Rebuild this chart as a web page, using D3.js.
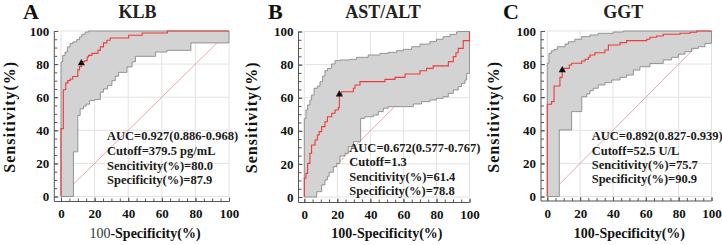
<!DOCTYPE html>
<html><head><meta charset="utf-8">
<script src="https://cdn.jsdelivr.net/npm/d3@7"></script>
<style>
body{margin:0;background:#fff}
svg{display:block}
text{font-family:"Liberation Serif","Times New Roman",serif;}
</style>
</head><body>
<svg id="chart" width="722" height="245"></svg>
<script>
// ---------------- data ----------------
const panelLetters = ["A", "B", "C"];
const panelTitles = ["KLB", "AST/ALT", "GGT"];
const majorTicks = [0, 20, 40, 60, 80, 100];
const minorTicks = d3.range(0, 101, 5);
const xTitle = "100-Specificity(%)";
const yTitle = "Sensitivity(%)";

// ROC curves: [100-specificity, sensitivity] corners (step: across, then up)
const rocA = [[0,0],[0,41],[1.4,64.5],[2.8,68.5],[4,70],[5.4,71],[7,72.5],[10,76.5],[11,78.5],[12.1,80],[13,81.5],[14,82],[15.6,84.3],[16.4,85.3],[18.4,86.5],[22,88.3],[23.4,90.4],[25.3,92.8],[27.3,94.4],[29.3,95.8],[40.3,97.4],[48.3,98.8],[63.3,100],[100,100]];
const upperA = [[0,0],[0,81.3],[1,85.3],[2.4,87.3],[3.8,90.4],[5.4,92.4],[7,93.4],[9.4,94.8],[11,96.4],[12.4,98],[14.4,99.4],[16.4,100],[100,100]];
const lowerA = [[0,0],[7.4,27],[10,49],[11.4,53],[13.4,54.6],[15,55.8],[17,58],[20,58.6],[23.4,63],[25.3,65],[27.7,67],[30.3,70],[32.3,72.7],[34.3,75],[39.3,78.3],[42.3,81.3],[44.3,84.7],[56.3,87.3],[63,88.3],[77.3,92.8],[100,92.8],[100,100]];

const rocB = [[0,0],[0,11.3],[1,14.3],[2,20.3],[3.4,26.4],[4.4,31.4],[6.5,34.4],[7.9,37.5],[9,39.5],[10.5,42.5],[12.5,45.5],[14,48.5],[16.6,50.6],[18.6,52.6],[20.6,54],[21.2,61.4],[22.6,63.6],[29.7,65.7],[30.7,67.7],[33.7,69.7],[48.8,71.1],[54.9,72.3],[61,74.3],[70,76.3],[74,77.7],[78,79.2],[87.2,81.8],[90.2,84.8],[91.8,87.2],[93.2,89.8],[96.2,94.5],[100,100]];
const upperB = [[0,0],[0,47.5],[1,52.6],[2,55.6],[3.4,58.6],[4.4,61.6],[5.9,65.7],[7.9,67],[9.5,69.7],[11.1,73.1],[12.5,76.3],[14,77.7],[16.5,80.4],[18.6,82.4],[21.6,82.8],[27.6,83.2],[31.7,84.4],[38.7,85.8],[45.8,86.8],[50.8,87.4],[55.9,88.4],[60,89.2],[65,90.8],[70,92.4],[76,93.9],[80,95.3],[84,96.9],[88.2,98.3],[92.2,99.7],[93,100],[100,100]];
const lowerB = [[0,0],[7.5,3.2],[10.5,7.3],[12.5,10.3],[14,12.5],[15.1,15],[17.6,18.3],[19.6,20.3],[21.6,24.8],[24.6,26.4],[26.6,30.4],[29.7,33.4],[34.1,47.5],[36.7,48.5],[41.8,49.5],[44.8,51.6],[47.8,53.6],[50.8,54.6],[66,56.2],[71,57.6],[76,58.6],[80,59.6],[84,60.6],[87.2,62.6],[90.2,64.7],[93.2,66.7],[95.2,68.7],[97.3,70.7],[98.3,74.7],[100,78.8],[100,100]];

const rocC = [[0,0],[0,55.7],[2.6,57.3],[4.1,66.8],[7.7,72],[9.1,75.7],[10.1,77.4],[13.4,79.5],[14.8,80.5],[21,81.9],[23,82.9],[25,84.1],[26,85.5],[29,86.9],[35.1,88.5],[37.2,91.5],[44.3,93],[48.3,94.2],[60.5,95],[62.5,96.2],[66.6,97],[70.6,98],[80.8,98.6],[86.9,99.2],[91,100],[100,100]];
const upperC = [[0,0],[0,80.5],[1,86.5],[2.5,88],[4.1,88.8],[6.1,90.5],[10.8,92.1],[12.8,93.5],[16.8,95],[20.9,96.6],[26,97.6],[31,98.6],[40.2,99.4],[46.3,100],[100,100]];
const lowerC = [[0,0],[7.3,40.2],[14.8,51.3],[21,60.3],[24,62],[26,64],[28,65.4],[31,67.4],[35.1,68.8],[39.2,70.4],[44.3,72],[48.3,73.4],[52.4,76.4],[56.4,78.4],[62.5,80.4],[70.6,82.5],[75.7,84.1],[79.8,86],[83.8,87.5],[87.9,89.5],[92,90.5],[96,92.5],[100,93.5],[100,100]];

const cutoffA = [12.1, 80.0];
const cutoffB = [21.2, 61.4];
const cutoffC = [9.1, 75.7];

const statsA = ["AUC=0.927(0.886-0.968)", "Cutoff=379.5 pg/mL", "Sencitivity(%)=80.0", "Specificity(%)=87.9"];
const statsB = ["AUC=0.672(0.577-0.767)", "Cutoff=1.3", "Sencitivity(%)=61.4", "Specificity(%)=78.8"];
const statsC = ["AUC=0.892(0.827-0.939)", "Cutoff=52.5 U/L", "Sencitivity(%)=75.7", "Specificity(%)=90.9"];

// ---------------- layout ----------------
const layouts = [
  {x0:61,    x1:229,   yb:196.5, yt:31,   axL:54.3,  axB:201.5, letterX:23,  titleX:137.5, statX:107,   statY:[140.2,154.9,169.6,184.2]},
  {x0:304.3, x1:469.5, yb:197,   yt:31.5, axL:298.5, axB:202.5, letterX:268, titleX:383,   statX:349.3, statY:[151.5,166.2,180.5,194.9]},
  {x0:547.3, x1:711.5, yb:196.5, yt:31,   axL:541,   axB:201,   letterX:503, titleX:623.3, statX:591.7, statY:[140.2,154.9,168.8,183.2]}
];
const rocs = [rocA, rocB, rocC];
const uppers = [upperA, upperB, upperC];
const lowers = [lowerA, lowerB, lowerC];
const cutoffs = [cutoffA, cutoffB, cutoffC];
const stats = [statsA, statsB, statsC];

const svg = d3.select("#chart");
svg.append("rect").attr("width",722).attr("height",245).attr("fill","#fff");

function expand(pts){
  const out=[pts[0]];
  for(let i=1;i<pts.length;i++){
    const a=pts[i-1], b=pts[i];
    out.push([b[0],a[1]]); out.push(b);
  }
  return out;
}

layouts.forEach((L, i) => {
  const x = d3.scaleLinear().domain([0,100]).range([L.x0, L.x1]);
  const y = d3.scaleLinear().domain([0,100]).range([L.yb, L.yt]);
  const g = svg.append("g");

  // grid
  g.selectAll(".gv").data(majorTicks).join("line")
    .attr("x1", d=>x(d)).attr("x2", d=>x(d)).attr("y1", y(0)).attr("y2", y(100))
    .attr("stroke","#e2e2e2").attr("stroke-width",1);
  g.selectAll(".gh").data(majorTicks).join("line")
    .attr("y1", d=>y(d)).attr("y2", d=>y(d)).attr("x1", x(0)).attr("x2", x(100))
    .attr("stroke","#e2e2e2").attr("stroke-width",1);

  // diagonal
  g.append("line").attr("x1",x(0)).attr("y1",y(0)).attr("x2",x(100)).attr("y2",y(100))
    .attr("stroke","#e6a9a9").attr("stroke-width",1);

  // confidence band
  const poly = expand(uppers[i]).concat(expand(lowers[i]).reverse());
  const line = d3.line().x(d=>x(d[0])).y(d=>y(d[1]));
  g.append("path").attr("d", line(poly) + "Z")
    .attr("fill","#d3d3d3").attr("stroke","#8a8a8a").attr("stroke-width",0.9);

  // ROC
  g.append("path").attr("d", line(expand(rocs[i])))
    .attr("fill","none").attr("stroke","#ee3b3b").attr("stroke-width",1.1);

  // cutoff marker
  g.append("path").attr("d", d3.symbol().type(d3.symbolTriangle).size(22)())
    .attr("transform", `translate(${x(cutoffs[i][0])},${y(cutoffs[i][1])-1})`)
    .attr("fill","#111");

  // axes lines
  g.append("line").attr("x1",L.axL).attr("x2",L.axL).attr("y1",y(100)).attr("y2",L.axB)
    .attr("stroke","#555").attr("stroke-width",1);
  g.append("line").attr("x1",L.axL).attr("x2",x(100)).attr("y1",L.axB).attr("y2",L.axB)
    .attr("stroke","#555").attr("stroke-width",1);

  // ticks
  const yMinor = g.append("g").attr("transform",`translate(${L.axL},0)`)
    .call(d3.axisLeft(y).tickValues(minorTicks).tickSize(-3).tickFormat(""));
  const yMajor = g.append("g").attr("transform",`translate(${L.axL},0)`)
    .call(d3.axisLeft(y).tickValues(majorTicks).tickSize(-4).tickPadding(5));
  const xMinor = g.append("g").attr("transform",`translate(0,${L.axB})`)
    .call(d3.axisBottom(x).tickValues(minorTicks).tickSize(-3).tickFormat(""));
  const xMajor = g.append("g").attr("transform",`translate(0,${L.axB})`)
    .call(d3.axisBottom(x).tickValues(majorTicks).tickSize(-4).tickPadding(7.5));
  [yMinor,yMajor,xMinor,xMajor].forEach(a=>{
    a.select(".domain").remove();
    a.selectAll("line").attr("stroke","#555");
    a.selectAll("text").attr("font-family",'"Liberation Serif","Times New Roman",serif')
      .attr("font-size",13).attr("font-weight","bold").attr("fill","#111");
  });

  // axis titles
  const cx = (L.x0 + L.x1)/2;
  const xt = g.append("text").attr("x",cx).attr("y",238).attr("text-anchor","middle")
    .attr("font-size",14).attr("font-weight","bold").attr("fill","#111");
  if(i===0){
    xt.append("tspan").attr("font-weight","normal").attr("fill","#333").text(xTitle.slice(0,3));
    xt.append("tspan").text(xTitle.slice(3));
  } else {
    xt.text(xTitle);
  }
  const cy = (L.yt + L.yb)/2 + 3;
  g.append("text").attr("transform",`translate(${Math.max(L.axL-42, 15)},${cy}) rotate(-90)`)
    .attr("text-anchor","middle").attr("font-size",16).attr("font-weight","bold")
    .attr("letter-spacing",1).attr("fill","#111").text(yTitle);

  // panel letter & title
  g.append("text").attr("x",L.letterX).attr("y",19).attr("font-size",22)
    .attr("font-weight","bold").attr("fill","#111").text(panelLetters[i]);
  g.append("text").attr("x",L.titleX).attr("y",17.5).attr("text-anchor","middle")
    .attr("font-size",18).attr("font-weight","bold").attr("fill","#222").text(panelTitles[i]);

  // stats
  g.selectAll(".st").data(stats[i]).join("text")
    .attr("x",L.statX).attr("y",(d,k)=>L.statY[k])
    .attr("font-size",12.5).attr("font-weight","bold").attr("fill","#1a1a1a").text(d=>d);
});
</script>
</body></html>
